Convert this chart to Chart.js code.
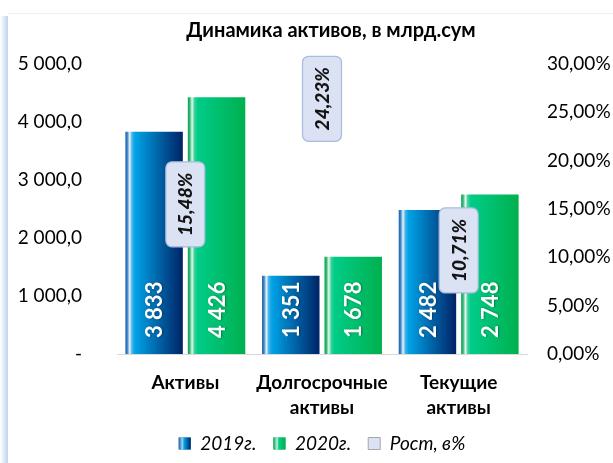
<!DOCTYPE html>
<html><head><meta charset="utf-8">
<script src="https://cdn.jsdelivr.net/npm/chart.js@4.4.1/dist/chart.umd.min.js"></script>
<style>html,body{margin:0;padding:0;background:#fff;overflow:hidden}</style></head>
<body><canvas id="c" width="613" height="463"></canvas>
<script>
const categories = [['Активы'], ['Долгосрочные', 'активы'], ['Текущие', 'активы']];
const seriesNames = ['2019г.', '2020г.', 'Рост, в%'];
const values2019 = [3833, 1351, 2482];
const values2020 = [4426, 1678, 2748];
const growthPct = [15.48, 24.23, 10.71];
const chartTitle = 'Динамика активов, в млрд.сум';
const leftTickLabels = ['-', '1 000,0', '2 000,0', '3 000,0', '4 000,0', '5 000,0'];
const rightTickLabels = ['0,00%', '5,00%', '10,00%', '15,00%', '20,00%', '25,00%', '30,00%'];

const FONT = 'Lato, "Noto Sans", sans-serif';
const CAT_PCT = 0.914, BAR_PCT = 0.92;
const growthLabelShift = [0, -21, 0];

const blueStops = [[0, '#1d5fa6'], [0.035, '#3f86c8'], [0.075, '#eaf4fb'], [0.115, '#45b4ea'], [0.17, '#00a2e6'], [1, '#002366']];
const greenStops = [[0, '#00a050'], [0.035, '#3ab878'], [0.075, '#e6f8ef'], [0.115, '#3ad39a'], [0.17, '#00cc88'], [1, '#00b04e']];
const blueLegendStops = [[0, '#1d5fa6'], [0.3, '#9fd0f0'], [0.45, '#00a2e6'], [1, '#002366']];
const greenLegendStops = [[0, '#00a050'], [0.3, '#c8f0dc'], [0.45, '#00cc88'], [1, '#00b04e']];

function barGradient(context, dsIndex, stops, fallback) {
  const chart = context.chart;
  const xs = chart.scales && chart.scales.x;
  if (!chart.chartArea || !xs || context.dataIndex === undefined) return fallback;
  const c = xs.getPixelForValue(context.dataIndex);
  const catW = xs.width / categories.length;
  const slot = catW * CAT_PCT / 2;
  const w = slot * BAR_PCT;
  const center = c + (dsIndex === 0 ? -slot / 2 : slot / 2);
  const g = chart.ctx.createLinearGradient(center - w / 2, 0, center + w / 2, 0);
  stops.forEach(s => g.addColorStop(s[0], s[1]));
  return g;
}

function fmtThousands(v) { return String(v).replace(/\B(?=(\d{3})+(?!\d))/g, ' '); }

const framePlugin = {
  id: 'frame',
  beforeDraw(chart) {
    const ctx = chart.ctx;
    ctx.save();
    ctx.fillStyle = '#fff';
    ctx.fillRect(0, 0, chart.width, chart.height);
    const g = ctx.createLinearGradient(0, 0, 8, 0);
    g.addColorStop(0, 'rgba(190,214,238,0)');
    g.addColorStop(1, '#bcd5ee');
    ctx.fillStyle = g;
    ctx.fillRect(0, 16, 8, chart.height - 16);
    ctx.fillStyle = '#f0f0f0';
    ctx.fillRect(8, 13, chart.width - 8, 1);
    ctx.restore();
  },
  afterDraw(chart) {
    const ctx = chart.ctx;
    ctx.save();
    ctx.font = 'bold 20px ' + FONT;
    ctx.fillStyle = '#000';
    ctx.textAlign = 'center';
    ctx.textBaseline = 'middle';
    ctx.fillText(chartTitle, 331, 31);
    // gradient legend markers for the bar series
    const lg = chart.legend;
    if (lg && lg.legendHitBoxes) {
      const fs = lg.options.labels.font.size, bh = lg.options.labels.boxHeight, bw = lg.options.labels.boxWidth;
      [[0, blueLegendStops], [1, greenLegendStops]].forEach(([idx, stops]) => {
        const hb = lg.legendHitBoxes[idx];
        if (!hb) return;
        const x = hb.left, y = hb.top + Math.max((fs - bh) / 2, 0);
        const g = ctx.createLinearGradient(x, 0, x + bw, 0);
        stops.forEach(s => g.addColorStop(s[0], s[1]));
        ctx.fillStyle = g;
        ctx.fillRect(x, y, bw, bh);
      });
    }
    ctx.restore();
  }
};

const labelsPlugin = {
  id: 'valueLabels',
  afterDatasetsDraw(chart) {
    const ctx = chart.ctx;
    ctx.save();
    [0, 1].forEach(di => {
      const meta = chart.getDatasetMeta(di);
      const vals = chart.data.datasets[di].data;
      meta.data.forEach((el, i) => {
        ctx.save();
        ctx.translate(el.x, el.base - 16);
        ctx.rotate(-Math.PI / 2);
        ctx.font = 'bold 22px ' + FONT;
        ctx.fillStyle = '#ffffff';
        ctx.shadowColor = 'rgba(0,0,0,0.35)';
        ctx.shadowBlur = 2;
        ctx.shadowOffsetX = 1;
        ctx.shadowOffsetY = 0;
        ctx.textAlign = 'left';
        ctx.textBaseline = 'middle';
        ctx.fillText(fmtThousands(vals[i]), 0, 1);
        ctx.restore();
      });
    });
    const gm = chart.getDatasetMeta(2);
    gm.data.forEach((pt, i) => {
      const cx = pt.x, cy = pt.y + growthLabelShift[i];
      const bw = 39, bh = 85;
      ctx.beginPath();
      ctx.roundRect(cx - bw / 2, cy - bh / 2, bw, bh, 6);
      ctx.fillStyle = '#dae2f3';
      ctx.fill();
      ctx.lineWidth = 1.2;
      ctx.strokeStyle = '#a8bbe0';
      ctx.stroke();
      ctx.save();
      ctx.translate(cx, cy);
      ctx.rotate(-Math.PI / 2);
      ctx.font = 'italic 900 19px ' + FONT;
      ctx.fillStyle = '#141414';
      ctx.textAlign = 'center';
      ctx.textBaseline = 'middle';
      ctx.fillText(growthPct[i].toFixed(2).replace('.', ',') + '%', 0, 1);
      ctx.restore();
    });
    ctx.restore();
  }
};

const legendColors = [
  { fill: '#0a6fbf', stroke: '#0a6fbf', lw: 0 },
  { fill: '#00bf70', stroke: '#00bf70', lw: 0 },
  { fill: '#dae2f3', stroke: '#a6a6a6', lw: 1 }
];

new Chart(document.getElementById('c'), {
  data: {
    labels: categories,
    datasets: [
      {
        type: 'bar', label: seriesNames[0], data: values2019, yAxisID: 'y',
        backgroundColor: ctx => barGradient(ctx, 0, blueStops, '#0a6fbf'),
        categoryPercentage: CAT_PCT, barPercentage: BAR_PCT
      },
      {
        type: 'bar', label: seriesNames[1], data: values2020, yAxisID: 'y',
        backgroundColor: ctx => barGradient(ctx, 1, greenStops, '#00bf70'),
        categoryPercentage: CAT_PCT, barPercentage: BAR_PCT
      },
      {
        type: 'line', label: seriesNames[2], data: growthPct, yAxisID: 'y1',
        showLine: false, pointRadius: 0, pointHoverRadius: 0,
        backgroundColor: '#dae2f3', borderColor: '#a6a6a6', borderWidth: 1
      }
    ]
  },
  options: {
    responsive: false, animation: false, devicePixelRatio: 1,
    layout: { padding: { left: 0, right: 0, top: 64, bottom: 0 } },
    plugins: {
      title: { display: false },
      legend: {
        position: 'bottom', fullSize: false,
        labels: {
          color: '#000', boxWidth: 12, boxHeight: 12, padding: 17,
          font: { family: FONT, size: 19, style: 'italic' },
          generateLabels(chart) {
            const items = Chart.defaults.plugins.legend.labels.generateLabels(chart);
            items.sort((a, b) => a.datasetIndex - b.datasetIndex);
            items.forEach(it => {
              const c = legendColors[it.datasetIndex];
              it.fillStyle = c.fill; it.strokeStyle = c.stroke; it.lineWidth = c.lw;
            });
            return items;
          }
        }
      },
      tooltip: { enabled: false }
    },
    scales: {
      x: {
        grid: { display: false, drawTicks: false },
        border: { display: true, color: '#d9d9d9', width: 1 },
        ticks: { color: '#000', padding: 16.5, maxRotation: 0, autoSkip: false,
          font: { family: FONT, size: 19, weight: 'bold', lineHeight: '25px' } },
        afterFit(s) { s.height = 63; }
      },
      y: {
        position: 'left', min: 0, max: 5000,
        grid: { display: false, drawTicks: false }, border: { display: false },
        ticks: { stepSize: 1000, color: '#000', padding: 35, font: { family: FONT, size: 19 },
          callback: (v, i) => leftTickLabels[i] },
        afterFit(s) { s.width = 117; }
      },
      y1: {
        position: 'right', min: 0, max: 30,
        grid: { display: false, drawTicks: false }, border: { display: false },
        ticks: { stepSize: 5, color: '#000', padding: 20, font: { family: FONT, size: 19 },
          callback: (v, i) => rightTickLabels[i] },
        afterFit(s) { s.width = 86; }
      }
    }
  },
  plugins: [framePlugin, labelsPlugin]
});
</script></body></html>
